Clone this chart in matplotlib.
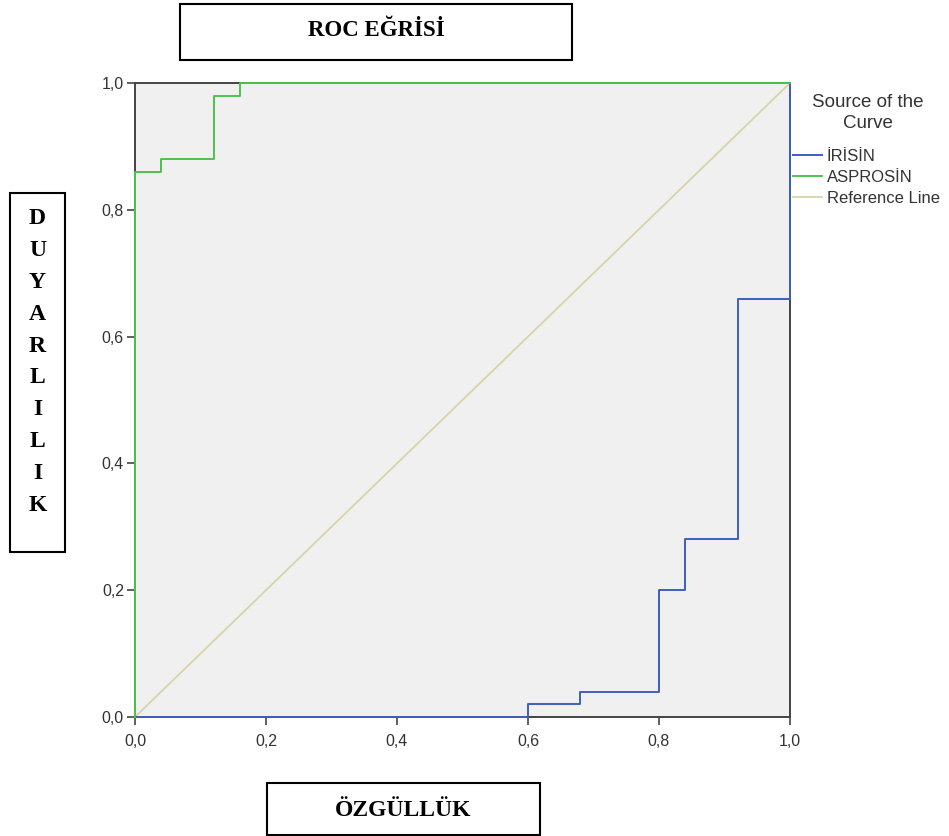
import matplotlib.pyplot as plt
from matplotlib.patches import Rectangle

# ROC curve step points (1 - specificity, sensitivity)
irisin_x = [0.0, 0.60, 0.60, 0.68, 0.68, 0.80, 0.80, 0.84, 0.84, 0.92, 0.92, 1.0, 1.0]
irisin_y = [0.0, 0.0, 0.02, 0.02, 0.04, 0.04, 0.20, 0.20, 0.28, 0.28, 0.66, 0.66, 1.0]
asprosin_x = [0.0, 0.0, 0.04, 0.04, 0.12, 0.12, 0.16, 0.16, 1.0]
asprosin_y = [0.0, 0.86, 0.86, 0.88, 0.88, 0.98, 0.98, 1.0, 1.0]
ref_x = [0.0, 1.0]
ref_y = [0.0, 1.0]

ticks = [0.0, 0.2, 0.4, 0.6, 0.8, 1.0]
tick_labels = ['0,0', '0,2', '0,4', '0,6', '0,8', '1,0']

title = 'ROC EĞRİSİ'
ylabel = 'DUYARLILIK'
xlabel = 'ÖZGÜLLÜK'
legend_title = 'Source of the\nCurve'

W, H = 949, 836
fig = plt.figure(figsize=(W / 100, H / 100), dpi=100)
ax = fig.add_axes([135 / W, 1 - 717 / H, (790 - 135) / W, (717 - 83) / H])
ax.set_facecolor('#f0f0f0')

ax.plot(ref_x, ref_y, color='#d8d4a6', lw=1.3, zorder=2, clip_on=False, label='Reference Line')
ax.plot(irisin_x, irisin_y, color='#3f5fbf', lw=1.4, zorder=3, clip_on=False, label='İRİSİN')
ax.plot(asprosin_x, asprosin_y, color='#4ec24e', lw=1.4, zorder=4, clip_on=False, label='ASPROSİN')

ax.set_xlim(0, 1)
ax.set_ylim(0, 1)
ax.set_xticks(ticks)
ax.set_xticklabels(tick_labels)
ax.set_yticks(ticks)
ax.set_yticklabels(tick_labels)
ax.tick_params(direction='out', length=6, width=1.2, color='#444444',
               labelcolor='#333333', labelsize=11.5)
ax.tick_params(axis='x', pad=6)
ax.tick_params(axis='y', pad=2)
for lab in ax.get_xticklabels() + ax.get_yticklabels():
    lab.set_fontfamily('Liberation Sans')
for sp in ax.spines.values():
    sp.set_color('#444444')
    sp.set_linewidth(1.4)

# legend (title drawn separately to get the wider gap)
h = ax.get_legend_handles_labels()[0]
order = [1, 2, 0]
leg = ax.legend([h[i] for i in order], ['İRİSİN', 'ASPROSİN', 'Reference Line'],
                loc='upper left', bbox_to_anchor=(1.004, (717 - 149) / 634),
                frameon=False, prop={'family': 'Liberation Sans', 'size': 12},
                handlelength=1.75, handletextpad=0.3, labelspacing=0.36,
                borderaxespad=0.0, borderpad=0.0)
for t in leg.get_texts():
    t.set_color('#333333')
fig.text(868 / W, 1 - 113 / H, legend_title, ha='center', va='center',
         family='Liberation Sans', fontsize=13.5, color='#333333', linespacing=1.3)

# boxed labels
def box(x0, y0, x1, y1):
    fig.patches.append(Rectangle((x0 / W, 1 - y1 / H), (x1 - x0) / W, (y1 - y0) / H,
                                 transform=fig.transFigure, fill=False,
                                 edgecolor='black', lw=1.5))

box(180, 4, 572, 60)
fig.text(376 / W, 1 - 31 / H, title, ha='center', va='center',
         family='Liberation Serif', weight='bold', fontsize=16.5)

box(267, 783, 540, 835)
fig.text(403 / W, 1 - 810 / H, xlabel, ha='center', va='center',
         family='Liberation Serif', weight='bold', fontsize=17)

box(10, 193, 65, 552)
fig.text(37.5 / W, 1 - 362 / H, '\n'.join(ylabel), ha='center', va='center',
         family='Liberation Serif', weight='bold', fontsize=17, linespacing=1.68)

fig.savefig('out.png', dpi=100)
